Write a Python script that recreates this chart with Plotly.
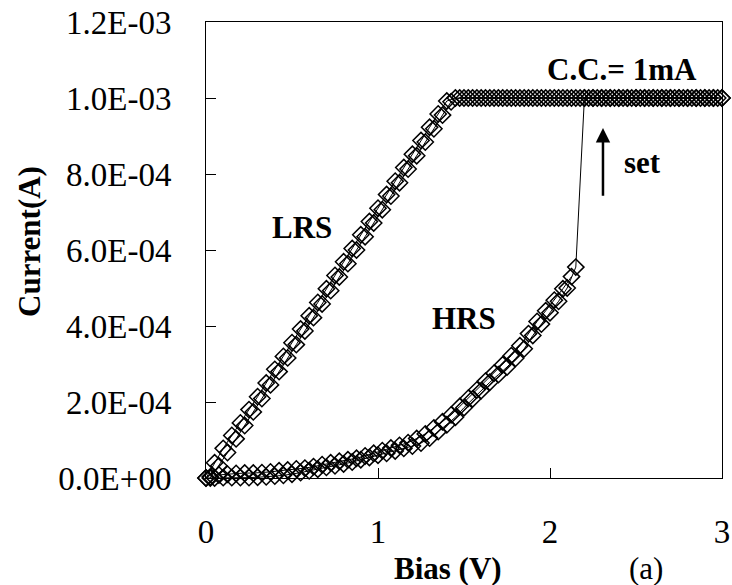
import plotly.graph_objects as go

# ---------------- data ----------------
# LRS sweep 1 (V, A)
lrs1_v = [0.00, 0.05, 0.10, 0.15, 0.20, 0.25, 0.30, 0.35, 0.40, 0.45, 0.50, 0.55, 0.60, 0.65, 0.70,
          0.75, 0.80, 0.85, 0.90, 0.95, 1.00, 1.05, 1.10, 1.15, 1.20, 1.25, 1.30, 1.35, 1.40,
          1.45, 1.50, 1.55, 1.60, 1.65, 1.70, 1.75, 1.80, 1.85, 1.90, 1.95, 2.00, 2.05, 2.10,
          2.15, 2.20, 2.25, 2.30, 2.35, 2.40, 2.45, 2.50, 2.55, 2.60, 2.65, 2.70, 2.75, 2.80,
          2.85, 2.90, 2.95, 3.00]
lrs1_i = [0.0, 0.40e-4, 0.78e-4, 1.12e-4, 1.45e-4, 1.80e-4, 2.14e-4, 2.50e-4, 2.86e-4, 3.20e-4,
          3.56e-4, 3.92e-4, 4.27e-4, 4.62e-4, 4.98e-4, 5.33e-4, 5.69e-4, 6.04e-4, 6.40e-4, 6.75e-4,
          7.10e-4, 7.46e-4, 7.81e-4, 8.17e-4, 8.52e-4, 8.88e-4, 9.23e-4, 9.58e-4, 9.92e-4,
          1.0e-3, 1.0e-3, 1.0e-3, 1.0e-3, 1.0e-3, 1.0e-3, 1.0e-3, 1.0e-3, 1.0e-3, 1.0e-3, 1.0e-3,
          1.0e-3, 1.0e-3, 1.0e-3, 1.0e-3, 1.0e-3, 1.0e-3, 1.0e-3, 1.0e-3, 1.0e-3, 1.0e-3, 1.0e-3,
          1.0e-3, 1.0e-3, 1.0e-3, 1.0e-3, 1.0e-3, 1.0e-3, 1.0e-3, 1.0e-3, 1.0e-3, 1.0e-3]

# LRS sweep 2 (V, A)
lrs2_v = [0.025, 0.075, 0.125, 0.175, 0.225, 0.275, 0.325, 0.375, 0.425, 0.475, 0.525, 0.575,
          0.625, 0.675, 0.725, 0.775, 0.825, 0.875, 0.925, 0.975, 1.025, 1.075, 1.125, 1.175,
          1.225, 1.275, 1.325, 1.375, 1.425, 1.475, 1.525, 1.575, 1.625, 1.675, 1.725, 1.775,
          1.825, 1.875, 1.925, 1.975, 2.025, 2.075, 2.125, 2.175, 2.225, 2.275, 2.325, 2.375,
          2.425, 2.475, 2.525, 2.575, 2.625, 2.675, 2.725, 2.775, 2.825, 2.875, 2.925, 2.975]
lrs2_i = [0.0, 0.32e-4, 0.67e-4, 1.03e-4, 1.38e-4, 1.74e-4, 2.09e-4, 2.45e-4, 2.80e-4, 3.16e-4,
          3.51e-4, 3.87e-4, 4.22e-4, 4.58e-4, 4.93e-4, 5.29e-4, 5.64e-4, 6.00e-4, 6.35e-4, 6.71e-4,
          7.06e-4, 7.42e-4, 7.77e-4, 8.13e-4, 8.48e-4, 8.84e-4, 9.19e-4, 9.55e-4, 9.90e-4,
          1.0e-3, 1.0e-3, 1.0e-3, 1.0e-3, 1.0e-3, 1.0e-3, 1.0e-3, 1.0e-3, 1.0e-3, 1.0e-3, 1.0e-3,
          1.0e-3, 1.0e-3, 1.0e-3, 1.0e-3, 1.0e-3, 1.0e-3, 1.0e-3, 1.0e-3, 1.0e-3, 1.0e-3, 1.0e-3,
          1.0e-3, 1.0e-3, 1.0e-3, 1.0e-3, 1.0e-3, 1.0e-3, 1.0e-3, 1.0e-3, 1.0e-3]

# HRS sweep 1 with set jump to compliance (V, A)
hrs1_v = [0.00, 0.05, 0.10, 0.15, 0.20, 0.25, 0.30, 0.35, 0.40, 0.45, 0.50, 0.55, 0.60, 0.65,
          0.70, 0.75, 0.80, 0.85, 0.90, 0.95, 1.00, 1.05, 1.10, 1.15, 1.20, 1.25, 1.30, 1.35,
          1.40, 1.45, 1.50, 1.55, 1.60, 1.65, 1.70, 1.75, 1.80, 1.85, 1.90, 1.95, 2.00, 2.05,
          2.10, 2.15, 2.20, 2.25, 2.30, 2.35, 2.40, 2.45, 2.50, 2.55, 2.60, 2.65, 2.70, 2.75,
          2.80, 2.85, 2.90, 2.95, 3.00]
hrs1_i = [0.0, 0.0, 0.01e-4, 0.01e-4, 0.01e-4, 0.01e-4, 0.02e-4, 0.03e-4, 0.05e-4, 0.07e-4,
          0.10e-4, 0.14e-4, 0.19e-4, 0.23e-4, 0.28e-4, 0.32e-4, 0.37e-4, 0.42e-4, 0.48e-4, 0.54e-4,
          0.60e-4, 0.65e-4, 0.71e-4, 0.78e-4, 0.84e-4, 0.92e-4, 1.05e-4, 1.22e-4, 1.40e-4, 1.60e-4,
          1.85e-4, 2.08e-4, 2.30e-4, 2.52e-4, 2.72e-4, 2.92e-4, 3.15e-4, 3.40e-4, 3.75e-4, 4.05e-4,
          4.35e-4, 4.65e-4, 5.00e-4, 5.55e-4,
          1.0e-3, 1.0e-3, 1.0e-3, 1.0e-3, 1.0e-3, 1.0e-3, 1.0e-3, 1.0e-3, 1.0e-3, 1.0e-3, 1.0e-3,
          1.0e-3, 1.0e-3, 1.0e-3, 1.0e-3, 1.0e-3, 1.0e-3]

# HRS sweep 2 (V, A)
hrs2_v = [0.025, 0.075, 0.125, 0.175, 0.225, 0.275, 0.325, 0.375, 0.425, 0.475, 0.525, 0.575,
          0.625, 0.675, 0.725, 0.775, 0.825, 0.875, 0.925, 0.975, 1.025, 1.075, 1.125, 1.175,
          1.225, 1.275, 1.325, 1.375, 1.425, 1.475, 1.525, 1.575, 1.625, 1.675, 1.725, 1.775,
          1.825, 1.875, 1.925, 1.975, 2.025, 2.075, 2.125]
hrs2_i = [0.03e-4, 0.08e-4, 0.10e-4, 0.12e-4, 0.13e-4, 0.13e-4, 0.14e-4, 0.16e-4, 0.19e-4, 0.21e-4,
          0.24e-4, 0.26e-4, 0.30e-4, 0.35e-4, 0.40e-4, 0.44e-4, 0.48e-4, 0.52e-4, 0.58e-4, 0.65e-4,
          0.72e-4, 0.79e-4, 0.86e-4, 0.93e-4, 1.04e-4, 1.16e-4, 1.32e-4, 1.48e-4, 1.66e-4, 1.88e-4,
          2.10e-4, 2.32e-4, 2.55e-4, 2.76e-4, 2.98e-4, 3.22e-4, 3.48e-4, 3.80e-4, 4.12e-4, 4.40e-4,
          4.68e-4, 4.98e-4, 5.30e-4]

x_tick_vals = [0, 1, 2, 3]
x_tick_text = ["0", "1", "2", "3"]
y_tick_vals = [0, 2e-4, 4e-4, 6e-4, 8e-4, 1.0e-3, 1.2e-3]
y_tick_text = ["0.0E+00", "2.0E-04", "4.0E-04", "6.0E-04", "8.0E-04", "1.0E-03", "1.2E-03"]

# ---------------- figure ----------------
FONT = "Liberation Serif, Times New Roman, serif"
FS = 31       # annotation / title text
FS_TICK = 33  # tick labels

fig = go.Figure()
for xs, ys in [(hrs2_v, hrs2_i), (lrs2_v, lrs2_i), (hrs1_v, hrs1_i), (lrs1_v, lrs1_i)]:
    fig.add_trace(go.Scatter(
        x=xs, y=ys, mode="lines+markers",
        line=dict(color="black", width=1),
        marker=dict(symbol="diamond-open", size=12.5, color="black", line=dict(color="black", width=1.5)),
        cliponaxis=False, showlegend=False, hoverinfo="skip",
    ))

fig.update_layout(
    width=732, height=585,
    margin=dict(l=206, r=10, t=22, b=107, autoexpand=False),
    paper_bgcolor="white", plot_bgcolor="white",
    font=dict(family=FONT, size=FS, color="black"),
    showlegend=False,
)
fig.update_xaxes(
    range=[0, 3], tickvals=x_tick_vals, ticktext=x_tick_text, automargin=False,
    showline=True, linecolor="black", linewidth=1, mirror=True,
    ticks="inside", ticklen=10, tickcolor="black", tickwidth=1,
    showgrid=False, zeroline=False, ticklabelstandoff=24,
    tickfont=dict(family=FONT, size=FS_TICK, color="black"),
)
fig.update_yaxes(
    range=[0, 1.2e-3], tickvals=y_tick_vals, ticktext=y_tick_text, automargin=False,
    showline=True, linecolor="black", linewidth=1, mirror=True,
    ticks="inside", ticklen=10, tickcolor="black", tickwidth=1,
    showgrid=False, zeroline=False, ticklabelstandoff=27,
    tickfont=dict(family=FONT, size=FS_TICK, color="black"),
)

def txt(x, y, s, bold=True, xref="x", yref="y", angle=0):
    fig.add_annotation(x=x, y=y, xref=xref, yref=yref, text=(f"<b>{s}</b>" if bold else s),
                       showarrow=False, textangle=angle,
                       font=dict(family=FONT, size=FS, color="black"),
                       xanchor="center", yanchor="middle")

txt(0.558, 6.58e-4, "LRS")
txt(1.50, 4.21e-4, "HRS")
txt(2.535, 8.29e-4, "set")
txt(2.419, 1.076e-3, "C.C.= 1mA")
# axis titles placed in paper coordinates
txt((448 - 206) / 516, -(568 - 478) / 456, "Bias (V)", xref="paper", yref="paper")
txt((646 - 206) / 516, -(568 - 478) / 456, "(a)", bold=False, xref="paper", yref="paper")
txt(-(206 - 30) / 516, (478 - 242) / 456, "Current(A)", xref="paper", yref="paper", angle=-90)

# set arrow
fig.add_annotation(x=2.308, y=9.21e-4, ax=2.308, ay=7.39e-4, xref="x", yref="y", axref="x", ayref="y",
                   text="", showarrow=True, arrowhead=2, arrowsize=1.15, arrowwidth=2.5,
                   arrowcolor="black", standoff=0, startstandoff=0)

fig.write_html("out.html")
